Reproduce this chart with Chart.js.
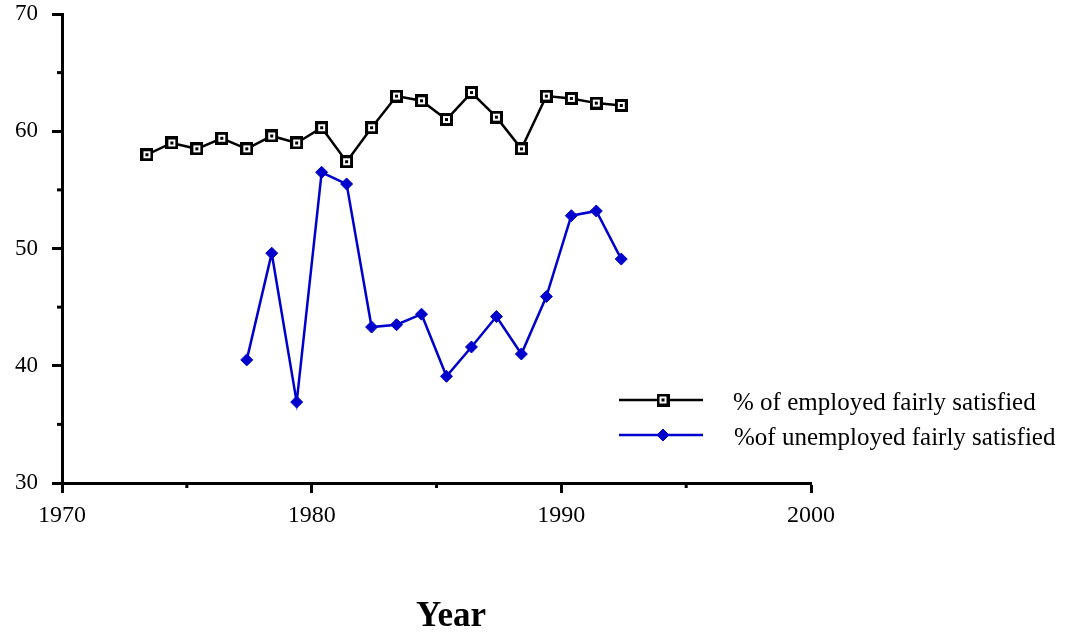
<!DOCTYPE html>
<html>
<head>
<meta charset="utf-8">
<script src="https://cdn.jsdelivr.net/npm/chart.js@4.4.0/dist/chart.umd.min.js"></script>
<style>
  html, body { margin: 0; padding: 0; background: #fff; }
</style>
</head>
<body>
<canvas id="chart" width="1067" height="634"></canvas>
<script>
const serif = '"Liberation Serif", "Times New Roman", serif';

// survey years (mid-year)
const employedYears = [1973.4, 1974.4, 1975.4, 1976.4, 1977.4, 1978.4, 1979.4, 1980.4, 1981.4, 1982.4,
                       1983.4, 1984.4, 1985.4, 1986.4, 1987.4, 1988.4, 1989.4, 1990.4, 1991.4, 1992.4];
const employedPct = [58.0, 59.0, 58.5, 59.4, 58.5, 59.6, 59.0, 60.3, 57.4, 60.3,
                     63.0, 62.6, 61.0, 63.3, 61.2, 58.5, 63.0, 62.8, 62.4, 62.2];

const unemployedYears = [1977.4, 1978.4, 1979.4, 1980.4, 1981.4, 1982.4, 1983.4, 1984.4,
                         1985.4, 1986.4, 1987.4, 1988.4, 1989.4, 1990.4, 1991.4, 1992.4];
const unemployedPct = [40.5, 49.6, 36.9, 56.5, 55.5, 43.3, 43.5, 44.4,
                       39.1, 41.6, 44.2, 41.0, 45.9, 52.8, 53.2, 49.1];

const seriesLabels = ['% of employed fairly satisfied', '%of unemployed fairly satisfied'];
const xTitle = 'Year';

const blue = '#0000cc';

// hollow square with a dot in the middle
function squareMarker() {
    const c = document.createElement('canvas');
    c.width = 13; c.height = 13;
    const g = c.getContext('2d');
    g.fillStyle = '#fff';
    g.fillRect(0, 0, 13, 13);
    g.strokeStyle = '#000';
    g.lineWidth = 3;
    g.strokeRect(1.5, 1.5, 10, 10);
    g.fillStyle = '#000';
    g.fillRect(5, 5, 3, 3);
    return c;
}
const sqMarker = squareMarker();

const toPoints = (xs, ys) => xs.map((x, i) => ({ x: x, y: ys[i] }));

// minor ticks, legend and axis title
const extras = {
    id: 'extras',
    afterDraw(chart) {
        const { ctx, scales: { x, y } } = chart;
        ctx.save();
        ctx.strokeStyle = '#000';
        ctx.lineWidth = 3;
        y.ticks.forEach(t => {
            if (t.value % 10 !== 0) {
                const py = y.getPixelForValue(t.value);
                ctx.beginPath();
                ctx.moveTo(x.left - 5, py);
                ctx.lineTo(x.left, py);
                ctx.stroke();
            }
        });
        x.ticks.forEach(t => {
            if (t.value % 10 !== 0) {
                const px = x.getPixelForValue(t.value);
                ctx.beginPath();
                ctx.moveTo(px, y.bottom);
                ctx.lineTo(px, y.bottom + 5);
                ctx.stroke();
            }
        });

        // legend
        const rows = [
            { y: 400, color: '#000', style: sqMarker, radius: 6, text: seriesLabels[0], tx: 733 },
            { y: 435, color: blue, style: 'rectRot', radius: 6, text: seriesLabels[1], tx: 734 }
        ];
        rows.forEach(r => {
            ctx.strokeStyle = r.color;
            ctx.lineWidth = 2.5;
            ctx.beginPath();
            ctx.moveTo(619, r.y);
            ctx.lineTo(703, r.y);
            ctx.stroke();
            ctx.fillStyle = r.color;
            ctx.lineWidth = 1;
            Chart.helpers.drawPoint(ctx, { pointStyle: r.style, radius: r.radius, borderWidth: 1, rotation: 0 }, 663, r.y);
            ctx.fillStyle = '#000';
            ctx.font = '25px ' + serif;
            ctx.textAlign = 'left';
            ctx.textBaseline = 'middle';
            ctx.fillText(r.text, r.tx, r.y + 3);
        });

        ctx.font = 'bold 35px ' + serif;
        ctx.textAlign = 'center';
        ctx.textBaseline = 'alphabetic';
        ctx.fillText(xTitle, 451, 626);
        ctx.restore();
    }
};

new Chart(document.getElementById('chart'), {
    type: 'line',
    data: {
        datasets: [{
            label: seriesLabels[0],
            data: toPoints(employedYears, employedPct),
            borderColor: '#000',
            borderWidth: 2.5,
            pointStyle: sqMarker,
            pointRadius: 6,
            tension: 0
        }, {
            label: seriesLabels[1],
            data: toPoints(unemployedYears, unemployedPct),
            borderColor: blue,
            backgroundColor: blue,
            borderWidth: 2.5,
            pointStyle: 'rectRot',
            pointRadius: 6,
            pointBorderWidth: 1,
            pointBackgroundColor: blue,
            pointBorderColor: blue,
            tension: 0
        }]
    },
    options: {
        responsive: false,
        animation: false,
        layout: { padding: { top: 14, right: 256, left: 0, bottom: 0 } },
        plugins: {
            legend: { display: false },
            tooltip: { enabled: false }
        },
        scales: {
            x: {
                type: 'linear',
                min: 1970,
                max: 2000,
                afterFit: s => { s.height = 151; },
                border: { color: '#000', width: 3 },
                grid: {
                    drawOnChartArea: false,
                    tickLength: 10,
                    tickWidth: 3,
                    tickColor: c => c.tick.value % 10 === 0 ? '#000' : 'rgba(0,0,0,0)'
                },
                ticks: {
                    stepSize: 5,
                    autoSkip: false,
                    maxRotation: 0,
                    padding: 8,
                    color: '#000',
                    font: { family: serif, size: 24 },
                    callback: v => v % 10 === 0 ? String(v) : ''
                }
            },
            y: {
                min: 30,
                max: 70,
                afterFit: s => { s.width = 62; s.paddingTop = 0; s.paddingBottom = 0; },
                border: { color: '#000', width: 3 },
                grid: {
                    drawOnChartArea: false,
                    tickLength: 10,
                    tickWidth: 3,
                    tickColor: c => c.tick.value % 10 === 0 ? '#000' : 'rgba(0,0,0,0)'
                },
                ticks: {
                    stepSize: 5,
                    padding: 14,
                    color: '#000',
                    font: { family: serif, size: 23 },
                    callback: v => v % 10 === 0 ? String(v) : ''
                }
            }
        }
    },
    plugins: [extras]
});
</script>
</body>
</html>
